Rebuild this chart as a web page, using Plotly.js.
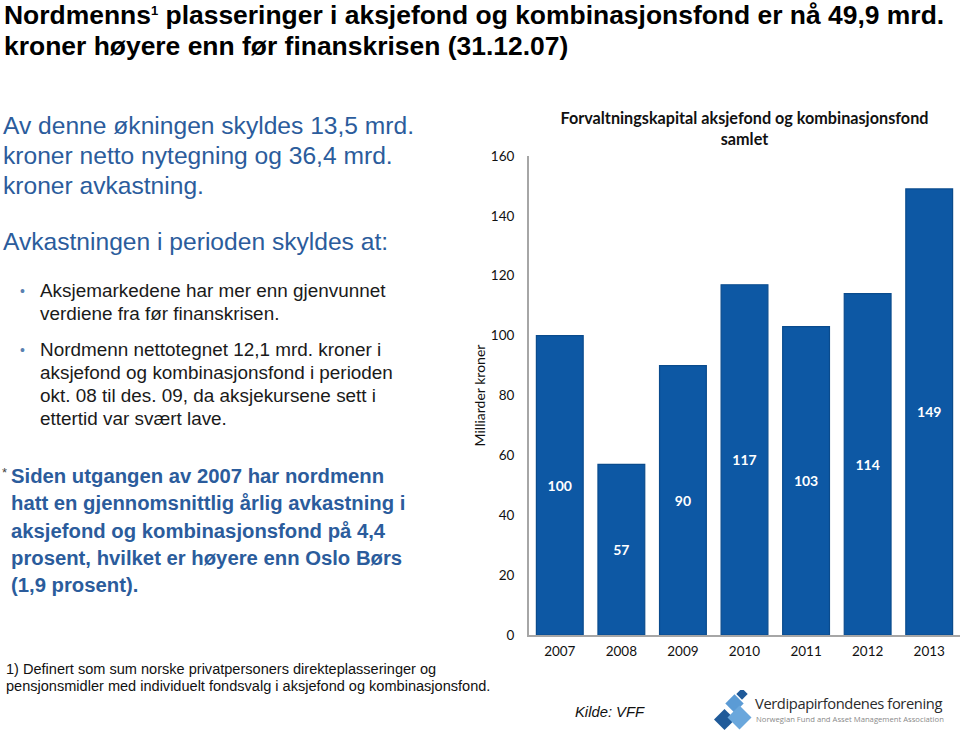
<!DOCTYPE html>
<html>
<head>
<meta charset="utf-8">
<script src="https://cdn.plot.ly/plotly-3.0.1.min.js"></script>
<style>
  html, body { margin:0; padding:0; background:#fff; }
  #wrap { position:relative; width:960px; height:736px; overflow:hidden; font-family: Arial, "Liberation Sans", sans-serif; }
  #chart { position:absolute; left:0; top:0; width:960px; height:736px; }
  .t { position:absolute; white-space:nowrap; }
  #title { left:4px; top:0px; font-family: Arial, "Liberation Sans", sans-serif; font-weight:bold; font-size:26px; line-height:31px; color:#000; }
  #title sup { font-size:13px; line-height:0; vertical-align:9px; }
  #intro { left:3px; top:111px; font-size:24.6px; line-height:30px; color:#2b5c9c; }
  #sub { left:3px; top:227px; font-size:24.6px; line-height:30px; color:#2b5c9c; }
  .bul { left:20px; font-size:18.9px; line-height:23px; color:#1a1a1a; }
  .bul .dot { position:absolute; left:0; top:1px; color:#5a80b0; font-size:14px; }
  .bul .tx { position:absolute; left:20px; top:0; }
  #star { left:2px; top:463px; font-size:20.3px; line-height:27.3px; color:#2b5c9c; font-weight:bold; }
  #star .ast { position:absolute; left:0; top:-4px; font-size:13px; color:#444; font-weight:normal; }
  #star .tx { position:absolute; left:9px; top:0; }
  #foot { left:6px; top:661px; font-size:14.55px; line-height:17px; color:#111; }
  #kilde { left:575px; top:704px; font-size:14.8px; font-style:italic; color:#111; }
  #logoMark { position:absolute; left:714px; top:690px; width:40px; height:44px; }
  #logoName { left:755px; top:693px; font-family:'Open Sans', Arial, sans-serif; font-size:17px; line-height:20px; color:#2b2b2b; }
  #logoSub { left:756px; top:714px; font-family:'Open Sans', Arial, sans-serif; font-size:7.6px; line-height:10px; color:#8a8a8a; }
</style>
</head>
<body>
<div id="wrap">
  <div id="chart"></div>
  <div class="t" id="title">Nordmenns<sup>1</sup> plasseringer i aksjefond og kombinasjonsfond er nå 49,9 mrd.<br>kroner høyere enn før finanskrisen (31.12.07)</div>
  <div class="t" id="intro">Av denne økningen skyldes 13,5 mrd.<br>kroner netto nytegning og 36,4 mrd.<br>kroner avkastning.</div>
  <div class="t" id="sub">Avkastningen i perioden skyldes at:</div>
  <div class="t bul" style="top:279px;"><span class="dot">•</span><span class="tx">Aksjemarkedene har mer enn gjenvunnet<br>verdiene fra før finanskrisen.</span></div>
  <div class="t bul" style="top:338px;"><span class="dot">•</span><span class="tx">Nordmenn nettotegnet 12,1 mrd. kroner i<br>aksjefond og kombinasjonsfond i perioden<br>okt. 08 til des. 09, da aksjekursene sett i<br>ettertid var svært lave.</span></div>
  <div class="t" id="star"><span class="ast">*</span><span class="tx">Siden utgangen av 2007 har nordmenn<br>hatt en gjennomsnittlig årlig avkastning i<br>aksjefond og kombinasjonsfond på 4,4<br>prosent, hvilket er høyere enn Oslo Børs<br>(1,9 prosent).</span></div>
  <div class="t" id="foot">1) Definert som sum norske privatpersoners direkteplasseringer og<br>pensjonsmidler med individuelt fondsvalg i aksjefond og kombinasjonsfond.</div>
  <div class="t" id="kilde">Kilde: VFF</div>
  <svg id="logoMark" viewBox="0 0 40 44" xmlns="http://www.w3.org/2000/svg">
    <rect x="14" y="7" width="13" height="13" fill="#5b9bd5" transform="rotate(45 20.5 13.5)"/>
    <rect x="24" y="0" width="8" height="8" fill="#1f5a99" transform="rotate(45 28 4)"/>
    <rect x="3" y="22" width="15" height="15" fill="#1f5a99" transform="rotate(45 10.5 29.5)"/>
    <rect x="17" y="19" width="17" height="17" fill="#6aa7dc" transform="rotate(45 25.5 27.5)"/>
  </svg>
  <div class="t" id="logoName">Verdipapirfondenes forening</div>
  <div class="t" id="logoSub">Norwegian Fund and Asset Management Association</div>
</div>
<script>
var years = ['2007', '2008', '2009', '2010', '2011', '2012', '2013'];
var values = [100, 57, 90, 117, 103, 114, 149];
var labels = ['100', '57', '90', '117', '103', '114', '149'];
var yTicks = [0, 20, 40, 60, 80, 100, 120, 140, 160];

// fit a text block to a target width using tighter spacing / size (no transforms)
function fitWidth(id, target, nChars, minLs) {
  var el = document.getElementById(id);
  var fs = parseFloat(getComputedStyle(el).fontSize);
  var w = el.scrollWidth;
  if (w > target) {
    var ls = Math.max(minLs, (target - w) / nChars);
    el.style.letterSpacing = ls + 'px';
    w = el.scrollWidth;
  }
  if (Math.abs(w - target) > 1) {
    el.style.fontSize = (fs * target / w) + 'px';
  }
}
fitWidth('title', 941, 73, -0.9);
fitWidth('logoName', 189, 27, -0.4);
fitWidth('logoSub', 188, 47, -0.1);

var font = 'Lato, "Open Sans", Arial, sans-serif';

var trace = {
  type: 'bar',
  x: years,
  y: values,
  text: labels,
  textposition: 'inside',
  insidetextanchor: 'middle',
  textangle: 0,
  constraintext: 'none',
  textfont: { family: font, size: 14, color: '#ffffff', weight: 'bold' },
  marker: { color: '#0d58a4', line: { color: '#0a4b8d', width: 1.2 } },
  hoverinfo: 'skip'
};

var layout = {
  width: 960,
  height: 736,
  margin: { l: 529, r: 0, t: 156, b: 101, pad: 0 },
  paper_bgcolor: 'rgba(0,0,0,0)',
  plot_bgcolor: 'rgba(0,0,0,0)',
  bargap: 0.24,
  showlegend: false,
  font: { family: font, color: '#222' },
  title: {
    text: 'Forvaltningskapital aksjefond og kombinasjonsfond<br>samlet',
    font: { family: font, size: 16.2, color: '#111', weight: 'bold' },
    x: 0.7755, xanchor: 'center',
    y: 0.832, yanchor: 'middle'
  },
  xaxis: {
    type: 'category',
    showline: true, linecolor: '#a6a6a6', linewidth: 2,
    ticks: '', showgrid: false, zeroline: false,
    tickfont: { family: font, size: 13.5, color: '#111' },
    ticklabelstandoff: 3
  },
  yaxis: {
    range: [0, 160],
    tickvals: yTicks,
    ticktext: yTicks.map(String),
    showline: true, linecolor: '#a6a6a6', linewidth: 2,
    ticks: '', showgrid: false, zeroline: false,
    tickfont: { family: font, size: 13.5, color: '#111' },
    ticklabelstandoff: 10,
    title: { text: 'Milliarder kroner', font: { family: font, size: 14, color: '#111' }, standoff: 2 }
  }
};

Plotly.newPlot('chart', [trace], layout, { displayModeBar: false, staticPlot: true });
</script>
</body>
</html>
